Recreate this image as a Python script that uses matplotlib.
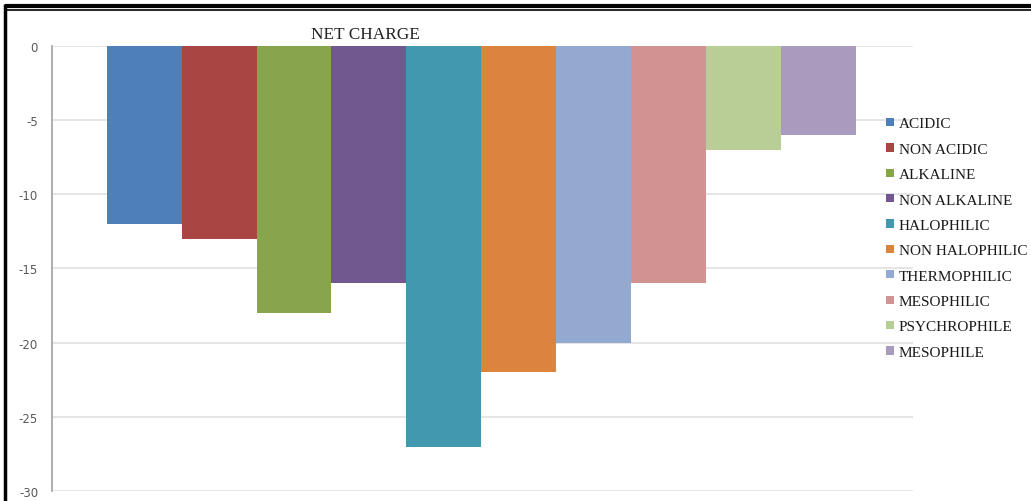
import numpy as np
import matplotlib.pyplot as plt
from matplotlib.lines import Line2D

# net charge of each protein group
groups = ['ACIDIC', 'NON ACIDIC', 'ALKALINE', 'NON ALKALINE', 'HALOPHILIC',
          'NON HALOPHILIC', 'THERMOPHILIC', 'MESOPHILIC', 'PSYCHROPHILE', 'MESOPHILE']
net_charge = [-12, -13, -18, -16, -27, -22, -20, -16, -7, -6]
colors = ['#4e7fbb', '#a94643', '#88a44d', '#71588f', '#4198af',
          '#db843d', '#93a9cf', '#d19392', '#b9cd96', '#a99bbd']
yticks = [0, -5, -10, -15, -20, -25, -30]

fig = plt.figure(figsize=(10.31, 5.02), dpi=100)
ax = fig.add_axes([0.0504, 0.0199, 0.835, 0.8865])

x = np.arange(len(groups))
for i in range(len(groups)):
    ax.bar(x[i], net_charge[i], width=1.0, color=colors[i], label=groups[i], zorder=3)

ax.set_xlim(-1.23, 10.26)
ax.set_ylim(-30, 0)
ax.set_yticks(yticks)
ax.set_yticklabels([str(v) for v in yticks], fontsize=8.5, color='#595959',
                   family='DejaVu Sans')
ax.tick_params(axis='y', length=0, pad=10)
ax.set_xticks([])
ax.grid(axis='y', color='#e0e0e0', linewidth=1.2, zorder=0)
for s in ['top', 'right', 'bottom']:
    ax.spines[s].set_visible(False)
ax.spines['left'].set_color('#a0a0a0')
ax.spines['left'].set_linewidth(1.2)

fig.text(0.354, 0.930, 'NET CHARGE', ha='center', va='center', fontsize=12.4,
         family='Liberation Serif', color='#222222')

leg = fig.legend(loc='upper left', bbox_to_anchor=(0.859, 0.764), frameon=False,
                 prop={'family': 'Liberation Serif', 'size': 11},
                 handlelength=0.55, handleheight=0.45, handletextpad=0.3,
                 labelspacing=0.81, borderaxespad=0, borderpad=0)
for t in leg.get_texts():
    t.set_color('#1a1a1a')

# page frame: double rule on top, thick rule down the left side
for y, lw in [(0.987, 3), (0.979, 1.2)]:
    fig.add_artist(Line2D([0.0053, 1.0], [y, y], color='black', linewidth=lw,
                          solid_capstyle='butt', transform=fig.transFigure))
fig.add_artist(Line2D([0.0053, 0.0053], [0.0, 0.99], color='black', linewidth=2.5,
                      solid_capstyle='butt', transform=fig.transFigure))

fig.savefig('out.png', dpi=100)
